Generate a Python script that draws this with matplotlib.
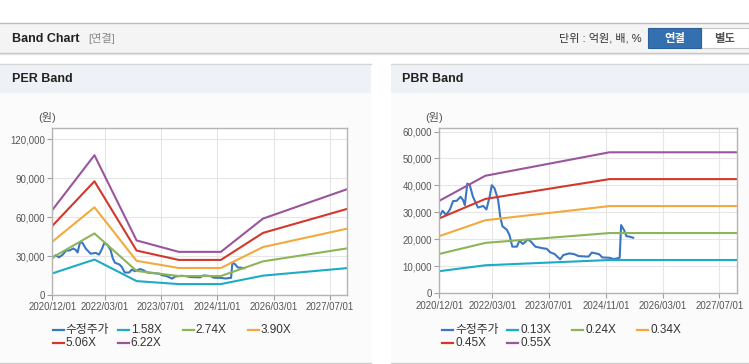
import matplotlib.pyplot as plt
from matplotlib.patches import Rectangle
from matplotlib.lines import Line2D
from matplotlib.ticker import FuncFormatter

plt.rcParams['font.family'] = ['Liberation Sans', 'Noto Sans CJK KR']

W, H = 749, 364

# x axis: months since 2020/12/01
tick_months = [0, 15, 31, 47, 63, 79]
tick_labels = ['2020/12/01', '2022/03/01', '2023/07/01',
               '2024/11/01', '2026/03/01', '2027/07/01']

# adjusted share price (수정주가)
price_m = [0, 0.95, 1.9, 3, 3.9, 4.9, 6, 6.7, 7.2, 7.9, 8.6, 9.5, 10.9,
           12.4, 13.3, 14.2, 14.8, 15.6, 16.6, 17.2, 17.8, 19.1, 19.8,
           20.6, 21.9, 22.6, 23.6, 25, 25.9, 27.1, 29.2, 30.3, 31.3, 32.5,
           34.1, 35, 36.7, 38.1, 39.3, 42.1, 43.05, 44.2, 45.1, 46.0,
           47.9, 49.3, 50.9, 51.3, 52.1, 52.8, 53.7, 54.7]
price = [28400, 30600, 29000, 31100, 34200, 34300, 35800, 34600, 32700,
         40700, 40100, 35800, 31800, 32400, 31100, 35800, 40100, 38900,
         34600, 28400, 24900, 23500, 21600, 17300, 17300, 19500, 18300,
         20000, 19100, 17300, 16700, 16500, 15200, 14600, 12600, 14200,
         14800, 14500, 13800, 13600, 15100, 14800, 14500, 13300, 13200,
         12700, 13200, 25300, 23500, 21200, 21000, 20600]

# PER bands
per_m = [0, 12, 24, 36, 48, 60, 84]
per_labels = ['1.58X', '2.74X', '3.90X', '5.06X', '6.22X']
per_158 = [16600, 27300, 10700, 8400, 8400, 14900, 20700]
per_274 = [28800, 47400, 18500, 14600, 14600, 25900, 35900]
per_390 = [41000, 67500, 26300, 20800, 20800, 36900, 51100]
per_506 = [53200, 87500, 34200, 27000, 27000, 47800, 66300]
per_622 = [65400, 107600, 42000, 33200, 33200, 58800, 81500]

# PBR bands
pbr_m = [0, 13, 48, 84]
pbr_labels = ['0.13X', '0.24X', '0.34X', '0.45X', '0.55X']
pbr_013 = [8200, 10400, 12350, 12350]
pbr_024 = [14600, 18700, 22350, 22350]
pbr_034 = [21200, 27100, 32350, 32350]
pbr_045 = [27800, 35000, 42350, 42350]
pbr_055 = [34300, 43600, 52300, 52300]

price_color = '#3b76c4'
band_colors = ['#1eabc4', '#8cb557', '#f3a93d', '#d2382b', '#9a559c']


def fx(x):
    return x / W


def fy(y):
    return 1 - y / H


def rect(fig, x0, y0, x1, y1, fc, ec='none', lw=0, z=-10):
    fig.add_artist(Rectangle((fx(x0), fy(y1)), (x1 - x0) / W, (y1 - y0) / H,
                             transform=fig.transFigure, fc=fc, ec=ec, lw=lw,
                             zorder=z))


def hline(fig, x0, x1, y, color, lw=1.0):
    fig.add_artist(Line2D([fx(x0), fx(x1)], [fy(y), fy(y)],
                          transform=fig.transFigure, color=color, lw=lw,
                          zorder=-5))


def draw_panel(fig, box, ymax, yticks, bands, band_m, labels, legend_x):
    left, top, right, bottom = box
    ax = fig.add_axes([fx(left), fy(bottom), (right - left) / W,
                       (bottom - top) / H])
    ax.set_facecolor('white')

    ax.plot(price_m, price, color=price_color, lw=1.5)
    for vals, c in zip(bands, band_colors):
        ax.plot(band_m, vals, color=c, lw=1.5)

    ax.set_xlim(0, 84)
    ax.set_ylim(0, ymax)
    ax.set_xticks(tick_months, tick_labels)
    ax.set_yticks(yticks)
    ax.yaxis.set_major_formatter(FuncFormatter(lambda v, p: f'{v:,.0f}'))
    ax.grid(color='#e6e6e6', lw=0.8)
    ax.set_axisbelow(True)
    for s in ax.spines.values():
        s.set_color('#b4b4b4')
        s.set_linewidth(1.0)
    ax.tick_params(colors='#a0a0a0', labelcolor='#555555', labelsize=6.9,
                   length=3.4, width=0.8, pad=2)

    # unit label
    fig.text(fx(left - 5), fy(117.3), '(원)', ha='center', va='center',
             fontsize=8, color='#555555')

    # legend
    names = ['수정주가'] + labels
    colors = [price_color] + band_colors
    for i, (n, c) in enumerate(zip(names, colors)):
        col, row = i % 4, i // 4
        x = legend_x + col * 65
        y = 330 + row * 13.3
        fig.add_artist(Line2D([fx(x), fx(x + 11)], [fy(y), fy(y)],
                              transform=fig.transFigure, color=c, lw=1.6))
        fig.text(fx(x + 13), fy(y), n, ha='left', va='center',
                 fontsize=8.5, color='#333333')
    return ax


fig = plt.figure(figsize=(W / 100, H / 100), dpi=100, facecolor='white')

# top header
rect(fig, 0, 23, W, 52.7, '#f4f4f4')
hline(fig, 0, W, 22.8, '#bdbdbd', 1.0)
hline(fig, 0, W, 52.9, '#c2c2c2', 1.0)
hline(fig, 0, W, 54.0, '#e4e4e4', 1.0)
fig.text(fx(11.5), fy(38.5), 'Band Chart', fontsize=9, fontweight='bold',
         color='#222222', va='center', ha='left')
fig.text(fx(88.5), fy(38.5), '[연결]', fontsize=8, color='#8a8a8a',
         va='center', ha='left')
fig.text(fx(642), fy(38.5), '단위 : 억원, 배, %', fontsize=8,
         color='#333333', va='center', ha='right')
rect(fig, 700.7, 28.3, 748.5, 47.7, 'white', ec='#c8c8c8', lw=0.8, z=-3)
rect(fig, 648.3, 28.3, 700.7, 47.7, '#3470b0', ec='#2c5f98', lw=0.8, z=-3)
fig.text(fx(674.5), fy(38.3), '연결', fontsize=8.2, fontweight='bold',
         color='white', va='center', ha='center')
fig.text(fx(724.8), fy(38.3), '별도', fontsize=8.2, fontweight='bold',
         color='#555555', va='center', ha='center')

# panels
for x0, x1, title in [(0, 371, 'PER Band'), (391, W, 'PBR Band')]:
    rect(fig, x0, 92.7, x1, 362.5, '#fbfbfb')
    rect(fig, x0, 64.3, x1, 92.7, '#eef1f6')
    hline(fig, x0, x1, 64.3, '#d6d6d6', 1.0)
    hline(fig, x0, x1, 362.8, '#d0d0d0', 1.0)
    fig.text(fx(x0 + 11.5), fy(79.5), title, fontsize=9,
             fontweight='bold', color='#222222', va='center', ha='left')

draw_panel(fig, (52.3, 128.3, 347.3, 295.0), 128300,
           [0, 30000, 60000, 90000, 120000],
           [per_158, per_274, per_390, per_506, per_622], per_m,
           per_labels, 52.7)
draw_panel(fig, (439.3, 128.3, 737.0, 293.3), 61200,
           [0, 10000, 20000, 30000, 40000, 50000, 60000],
           [pbr_013, pbr_024, pbr_034, pbr_045, pbr_055], pbr_m,
           pbr_labels, 442.3)

fig.savefig('out.png', dpi=100, facecolor='white')
